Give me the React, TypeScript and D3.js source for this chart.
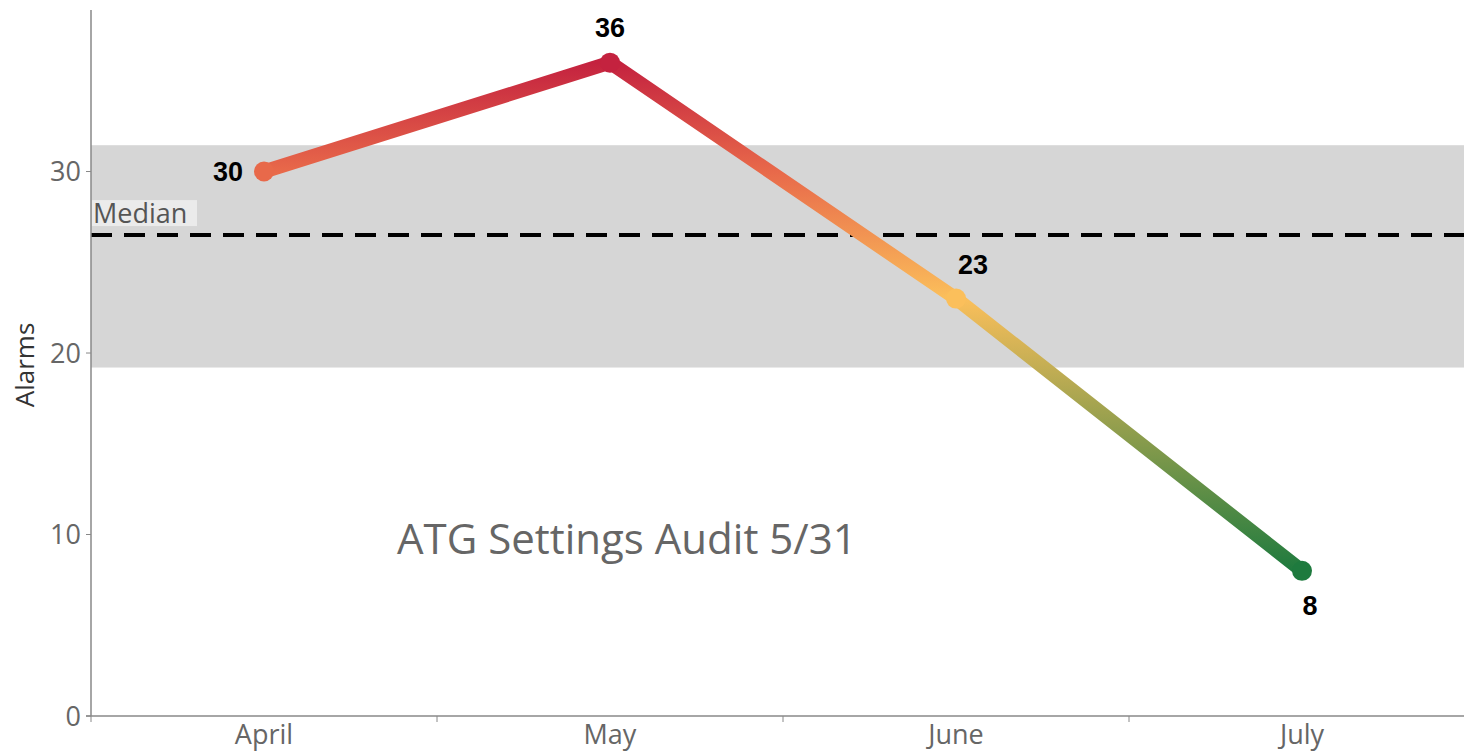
import React from "react";
import { scaleBand, scaleLinear, line } from "d3";

const months = ["April", "May", "June", "July"];
const alarms = [30, 36, 23, 8];
const yTicks = [0, 10, 20, 30];
const labelSides = ["left", "top", "topRight", "bottom"];
const bandRange = [19.2, 31.45];
const medianValue = 26.5;
const annotation = "ATG Settings Audit 5/31";

const W = 1464;
const H = 751;
const marginLeft = 91;
const axisY = 716;
const topY = 10;
const sans = "'Open Sans', sans-serif";

const App: React.FC = () => {
  const x = scaleBand<string>()
    .domain(months)
    .range([marginLeft, marginLeft + 346 * months.length]);

  const y = scaleLinear().domain([0, 38.9]).range([axisY, topY]);

  const cx = (m: string) => (x(m) ?? 0) + x.bandwidth() / 2;

  const path = line<number>()
    .x((_, i) => cx(months[i]))
    .y((d) => y(d))(alarms);

  const colorFor = (v: number) => {
    // diverging by value: low green, mid yellow, high red
    if (v <= 8) return "#1E7A3E";
    if (v <= 23) return "#FBBF5B";
    if (v <= 30) return "#E8694A";
    return "#C4223F";
  };

  const labelOffset = (side: string) => {
    if (side === "left") return { dx: -21, dy: 0, anchor: "end" };
    if (side === "top") return { dx: 0, dy: -35, anchor: "middle" };
    if (side === "topRight") return { dx: 17, dy: -34, anchor: "middle" };
    return { dx: 8, dy: 34, anchor: "middle" };
  };

  const stopAt = (v: number) => `${((v - 8) / (36 - 8)) * 100}%`;

  return (
    <svg
      width={W}
      height={H}
      style={{ position: "absolute", left: 0, top: 0, background: "#fff" }}
      fontFamily={sans}
    >
      <defs>
        <linearGradient
          id="valueGrad"
          gradientUnits="userSpaceOnUse"
          x1={0}
          x2={0}
          y1={y(8)}
          y2={y(36)}
        >
          <stop offset={stopAt(8)} stopColor={colorFor(8)} />
          <stop offset={stopAt(23)} stopColor={colorFor(23)} />
          <stop offset={stopAt(30)} stopColor={colorFor(30)} />
          <stop offset={stopAt(36)} stopColor={colorFor(36)} />
        </linearGradient>
      </defs>

      {/* reference band */}
      <rect
        x={marginLeft}
        y={y(bandRange[1])}
        width={W - marginLeft}
        height={y(bandRange[0]) - y(bandRange[1])}
        fill="#D6D6D6"
      />

      {/* median line */}
      <rect x={marginLeft + 1} y={y(medianValue) - 35} width={105} height={26} fill="#EBEBEB" />
      <text x={marginLeft + 2} y={y(medianValue) - 12} fontSize={27} fill="#555">
        Median
      </text>
      <line
        x1={marginLeft}
        x2={W}
        y1={y(medianValue)}
        y2={y(medianValue)}
        stroke="#000"
        strokeWidth={4}
        strokeDasharray="21 12"
      />

      {/* axes */}
      <line x1={marginLeft} x2={marginLeft} y1={topY} y2={axisY} stroke="#888" strokeWidth={1.5} />
      <line x1={marginLeft - 5} x2={W} y1={axisY} y2={axisY} stroke="#888" strokeWidth={1.5} />
      {yTicks.map((t) => (
        <g key={t}>
          <line x1={marginLeft - 5} x2={marginLeft} y1={y(t)} y2={y(t)} stroke="#888" />
          <text
            x={marginLeft - 10}
            y={y(t)}
            dy="0.36em"
            textAnchor="end"
            fontSize={27}
            fill="#666"
          >
            {t}
          </text>
        </g>
      ))}
      {months.map((m) => (
        <g key={m}>
          <line x1={x(m)} x2={x(m)} y1={axisY} y2={axisY + 6} stroke="#888" />
          <text x={cx(m)} y={axisY + 28} textAnchor="middle" fontSize={27} fill="#666">
            {m}
          </text>
        </g>
      ))}
      <text
        transform={`translate(34,${(topY + axisY) / 2 + 2}) rotate(-90)`}
        textAnchor="middle"
        fontSize={26}
        fill="#333"
      >
        Alarms
      </text>

      {/* annotation */}
      <text x={397} y={554} fontSize={42} fill="#666">
        {annotation}
      </text>

      {/* series */}
      <path
        d={path ?? ""}
        fill="none"
        stroke="url(#valueGrad)"
        strokeWidth={14}
        strokeLinejoin="round"
        strokeLinecap="round"
      />
      {alarms.map((v, i) => (
        <circle key={i} cx={cx(months[i])} cy={y(v)} r={10} fill={colorFor(v)} />
      ))}
      {alarms.map((v, i) => {
        const o = labelOffset(labelSides[i]);
        return (
          <text
            key={i}
            x={cx(months[i]) + o.dx}
            y={y(v) + o.dy}
            dy="0.36em"
            textAnchor={o.anchor}
            fontSize={27}
            fontWeight="bold"
            fontFamily="'Liberation Sans', Arial, sans-serif"
            fill="#000"
          >
            {v}
          </text>
        );
      })}
    </svg>
  );
};

export default App;
